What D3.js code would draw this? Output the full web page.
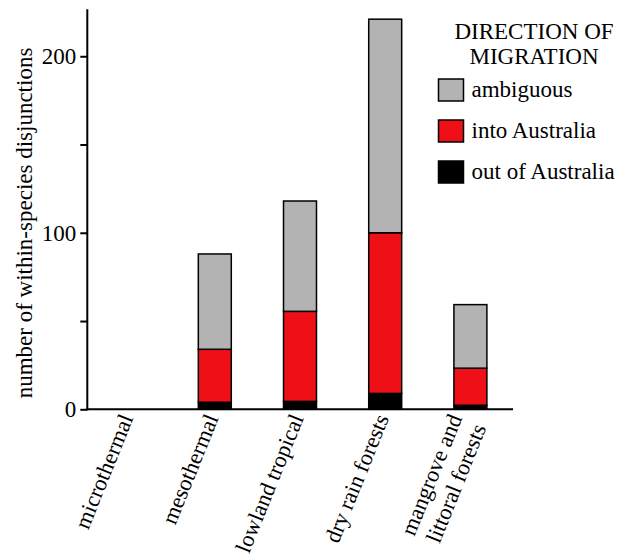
<!DOCTYPE html>
<html>
<head>
<meta charset="utf-8">
<script src="https://cdn.jsdelivr.net/npm/d3@7"></script>
<style>
  html, body { margin: 0; padding: 0; background: #fff; }
  svg text { font-family: "Liberation Serif", "Times New Roman", serif; fill: #000; }
</style>
</head>
<body>
<svg id="chart" width="624" height="558"></svg>
<script>
// Forest types along the x axis (label lines for multi-line names)
const categories = ["microthermal", "mesothermal", "lowland tropical", "dry rain forests", "mangrove and littoral forests"];
const categoryLines = [["microthermal"], ["mesothermal"], ["lowland tropical"], ["dry rain forests"], ["mangrove and", "littoral forests"]];

// Disjunction counts per direction of migration
const outOfAustralia = [0, 4, 4.5, 9, 2.3];
const intoAustralia  = [0, 30, 51, 91, 21];
const ambiguous      = [0, 54, 62.5, 121, 36];

const seriesKeys   = ["out", "into", "ambiguous"];
const seriesLabels = ["ambiguous", "into Australia", "out of Australia"];
const seriesColors = { ambiguous: "#b3b3b3", into: "#ee1016", out: "#000000" };

const yTicks = [0, 50, 100, 150, 200];
const yTickLabels = ["0", "", "100", "", "200"];

const FS = 23;
const svg = d3.select("#chart");

const table = categories.map((c, i) => ({
  category: c, out: outOfAustralia[i], into: intoAustralia[i], ambiguous: ambiguous[i]
}));
const stacked = d3.stack().keys(seriesKeys)(table);

const x = d3.scaleBand().domain(categories).range([87, 513])
  .paddingInner(0.613).paddingOuter(0.3065);
const y = d3.scaleLinear().domain([0, 226.6]).range([409.3, 9.3]);

// bars
svg.append("g").selectAll("g").data(stacked).join("g")
  .attr("fill", d => seriesColors[d.key])
  .selectAll("rect").data(d => d.filter(s => s[1] - s[0] > 0)).join("rect")
  .attr("x", d => x(d.data.category))
  .attr("width", x.bandwidth())
  .attr("y", d => y(d[1]))
  .attr("height", d => y(d[0]) - y(d[1]))
  .attr("stroke", "#000")
  .attr("stroke-width", 1.5);

// y axis
const yAxis = d3.axisLeft(y).tickValues(yTicks)
  .tickFormat((d, i) => yTickLabels[i]).tickSize(7).tickPadding(4);
const gy = svg.append("g").attr("transform", "translate(87.3,0)").call(yAxis);
gy.select(".domain").attr("d", `M0,${y.range()[1]}V${y(0) + 1}`).attr("stroke-width", 2);
gy.selectAll(".tick line").attr("stroke-width", 2);
gy.selectAll(".tick text").attr("font-size", FS).attr("font-family", "Liberation Serif");

// x axis baseline
const gx = svg.append("g").attr("transform", `translate(0,${y(0)})`)
  .call(d3.axisBottom(x).tickSize(0).tickFormat(""));
gx.select(".domain").attr("d", `M${x.range()[0] - 1},0H${x.range()[1]}`).attr("stroke-width", 2);

// rotated category labels; two-line names are pushed a little lower
const labels = svg.append("g").selectAll("text").data(categories).join("text")
  .attr("transform", (c, i) => `translate(${x(c) + x.bandwidth() / 2 + 4},${categoryLines[i].length > 1 ? 423 : 418}) rotate(-68)`)
  .attr("text-anchor", "end")
  .attr("font-size", 22.5);
labels.each(function (c, i) {
  const lines = categoryLines[i];
  const t = d3.select(this);
  lines.forEach((ln, j) => {
    t.append("tspan").attr("x", 0)
      .attr("y", (j - (lines.length - 1) / 2) * 26)
      .text(ln);
  });
});

// y axis title
svg.append("text")
  .attr("transform", "translate(32,223) rotate(-90)")
  .attr("text-anchor", "middle")
  .attr("font-size", FS)
  .text("number of within-species disjunctions");

// legend
const legend = svg.append("g");
legend.append("text").attr("x", 534).attr("y", 39).attr("text-anchor", "middle")
  .attr("font-size", FS).text("DIRECTION OF");
legend.append("text").attr("x", 534).attr("y", 63.5).attr("text-anchor", "middle")
  .attr("font-size", FS).text("MIGRATION");
const legendKeys = ["ambiguous", "into", "out"];
const ly = d3.scalePoint().domain(legendKeys).range([79, 161]);
const items = legend.selectAll("g.item").data(legendKeys).join("g").attr("class", "item")
  .attr("transform", k => `translate(438.5,${ly(k)})`);
items.append("rect").attr("width", 25).attr("height", 22)
  .attr("fill", k => seriesColors[k]).attr("stroke", "#000").attr("stroke-width", 1.5);
items.append("text").attr("x", 33).attr("y", 18).attr("font-size", FS)
  .text((k, i) => seriesLabels[i]);
</script>
</body>
</html>
